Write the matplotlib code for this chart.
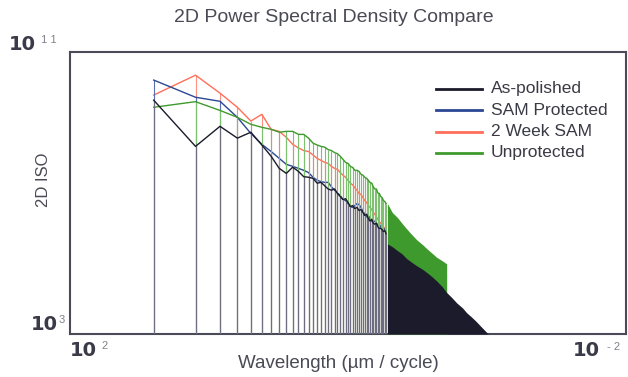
import matplotlib
matplotlib.use('Agg')
import matplotlib.pyplot as plt
import numpy as np
from matplotlib.lines import Line2D
from matplotlib.ticker import NullLocator

plt.rcParams['font.family'] = ['Liberation Sans', 'DejaVu Sans']

# sparse part: one stem per harmonic, wavelength = 25 / k  (um / cycle)
harmonic = np.arange(1, 48)
wavelength = 25.0 / harmonic

as_polished = [4.3e9, 2.1e8, 7.8e8, 3.6e8, 5.3e8, 2.3e8, 1.1e8, 5.0e7, 3.6e7, 5.4e7,
               4.1e7, 2.9e7, 2.8e7, 2.6e7, 1.9e7, 2.0e7, 1.6e7, 1.3e7, 1.2e7, 1.3e7,
               9.7e6, 7.9e6, 6.5e6, 6.9e6, 5.4e6, 4.1e6, 4.4e6, 3.6e6, 3.9e6, 3.2e6,
               3.4e6, 2.8e6, 2.3e6, 2.5e6, 1.9e6, 1.6e6, 1.8e6, 1.4e6, 1.3e6, 1.4e6,
               1.1e6, 9.8e5, 1.0e6, 9.1e5, 8.0e5, 8.6e5, 7.0e5]
sam_protected = [1.6e10, 5.2e9, 4.0e9, 1.4e9, 4.9e8, 2.4e8, 1.5e8, 9.6e7, 6.5e7, 5.7e7,
                 5.0e7, 4.4e7, 3.8e7, 2.8e7, 2.3e7, 2.1e7, 2.0e7, 2.0e7, 1.5e7, 1.2e7,
                 1.0e7, 8.5e6, 6.5e6, 6.1e6, 5.0e6, 4.1e6, 3.9e6, 4.4e6, 5.0e6, 4.7e6,
                 3.9e6, 3.0e6, 2.5e6, 2.1e6, 2.3e6, 1.9e6, 1.6e6, 1.5e6, 1.6e6, 1.4e6,
                 1.2e6, 1.3e6, 1.1e6, 9.8e5, 1.0e6, 9.1e5, 8.6e5]
week2_sam = [6.0e9, 2.2e10, 6.8e9, 2.7e9, 1.1e9, 1.7e9, 6.4e8, 5.6e8, 3.8e8, 2.4e8,
             1.9e8, 1.6e8, 1.5e8, 1.2e8, 9.6e7, 8.4e7, 7.4e7, 6.9e7, 5.7e7, 5.0e7,
             4.7e7, 3.8e7, 3.2e7, 2.8e7, 2.3e7, 1.9e7, 1.7e7, 1.4e7, 1.2e7, 9.7e6,
             9.1e6, 7.4e6, 6.1e6, 5.4e6, 4.4e6, 3.9e6, 3.4e6, 2.8e6, 2.5e6, 2.1e6,
             1.8e6, 1.5e6, 1.4e6, 1.3e6, 1.1e6, 9.8e5, 8.6e5]
unprotected = [2.7e9, 3.9e9, 2.2e9, 1.4e9, 8.9e8, 7.3e8, 6.4e8, 5.3e8, 5.6e8, 5.6e8,
               4.6e8, 4.6e8, 3.6e8, 2.6e8, 2.3e8, 2.1e8, 2.0e8, 1.7e8, 1.6e8, 1.4e8,
               1.3e8, 1.1e8, 9.0e7, 7.4e7, 6.9e7, 5.7e7, 5.3e7, 4.4e7, 4.4e7, 4.1e7,
               3.4e7, 3.2e7, 2.8e7, 2.6e7, 2.3e7, 2.0e7, 1.9e7, 1.5e7, 1.3e7, 1.3e7,
               1.0e7, 9.7e6, 7.9e6, 7.4e6, 6.1e6, 5.7e6, 5.0e6]

# dense part (stems merge into a solid area)
dense_wl_black = [0.52, 0.48, 0.44, 0.41, 0.38, 0.35, 0.32, 0.29, 0.27, 0.25, 0.23,
                  0.21, 0.195, 0.18, 0.165, 0.15, 0.14, 0.13, 0.12, 0.11, 0.098]
dense_black = [3.6e5, 3.0e5, 2.3e5, 1.9e5, 1.4e5, 1.1e5, 8.6e4, 6.8e4, 5.5e4, 4.3e4, 3.2e4,
               2.2e4, 1.5e4, 1.1e4, 7.6e3, 5.5e3, 4.0e3, 3.1e3, 2.3e3, 1.6e3, 1.0e3]
dense_wl_green = [0.52, 0.48, 0.44, 0.41, 0.38, 0.35, 0.32, 0.29, 0.27, 0.25, 0.23, 0.21, 0.195]
dense_green = [5.0e6, 2.8e6, 2.0e6, 1.4e6, 9.8e5, 6.8e5, 4.7e5, 3.4e5, 2.6e5, 2.0e5, 1.5e5,
               1.2e5, 9.8e4]

labels = ['As-polished', 'SAM Protected', '2 Week SAM', 'Unprotected']
colors = ['#1b1b2c', '#2c4894', '#ff6f5a', '#3f9a2e']
stem_colors = ['#6e6c80', '#5a6fb0', '#ff8f7e', '#7cc070']

W, H = 628, 377
fig = plt.figure(figsize=(W / 100, H / 100), dpi=100)
ax = fig.add_axes([70 / W, 1 - 334 / H, 556 / W, 282 / H])
ax.set_xscale('log')
ax.set_yscale('log')
ax.set_xlim(100, 0.01)
ax.set_ylim(1e3, 1e11)
bottom = 1e3

# draw order: red, blue, green, black on top
series = [(week2_sam, 2, 2), (sam_protected, 1, 3), (unprotected, 3, 4), (as_polished, 0, 5)]
for vals, i, z in series:
    ax.vlines(wavelength, bottom, vals, color=stem_colors[i], lw=0.8, zorder=z)
    ax.plot(wavelength, vals, color=colors[i], lw=1.0, zorder=z)

ax.fill_between(dense_wl_green, bottom, dense_green, color=colors[3], lw=0, zorder=4)
ax.fill_between(dense_wl_black, bottom, dense_black, color=colors[0], lw=0, zorder=5)

for sp in ax.spines.values():
    sp.set_color('#4a4a58')
    sp.set_linewidth(1.5)
for axis in (ax.xaxis, ax.yaxis):
    axis.set_major_locator(NullLocator())
    axis.set_minor_locator(NullLocator())


def px(x, y):
    return x / W, 1 - y / H


tick_col = '#3a3a48'
sup_col = '#80808a'
big = dict(size=14, weight='bold', color=tick_col, family='DejaVu Sans', va='center')
small = dict(size=8, color=sup_col, va='center', ha='left')
# axis end labels
fig.text(*px(58, 325), '10', ha='right', **big)
fig.text(*px(59, 320), '3', **small)
fig.text(*px(36, 44), '10', ha='right', **big)
fig.text(*px(41, 40), '1 1', **small)
fig.text(*px(70, 351), '10', ha='left', **big)
fig.text(*px(101, 346), '2', **small)
fig.text(*px(573, 351), '10', ha='left', **big)
fig.text(*px(607, 347), '- 2', **small)

fig.text(*px(334, 18), '2D Power Spectral Density Compare', ha='center', va='center',
         size=14, color='#4a4a55')
fig.text(*px(44, 180), '2D ISO', ha='center', va='center', rotation=90,
         size=12, color='#4a4a55')
fig.text(*px(338, 363), 'Wavelength (\u00b5m / cycle)', ha='center', va='center',
         size=13.5, color='#4a4a55')

# legend
for i, (lab, c) in enumerate(zip(labels, colors)):
    yy = 89 + 21.3 * i
    fig.add_artist(Line2D([436 / W, 482 / W], [1 - yy / H] * 2, color=c, lw=2))
    fig.text(*px(491, yy), lab, ha='left', va='center', size=12.5, color='#3a3a45')

fig.savefig('out.png', dpi=100)
